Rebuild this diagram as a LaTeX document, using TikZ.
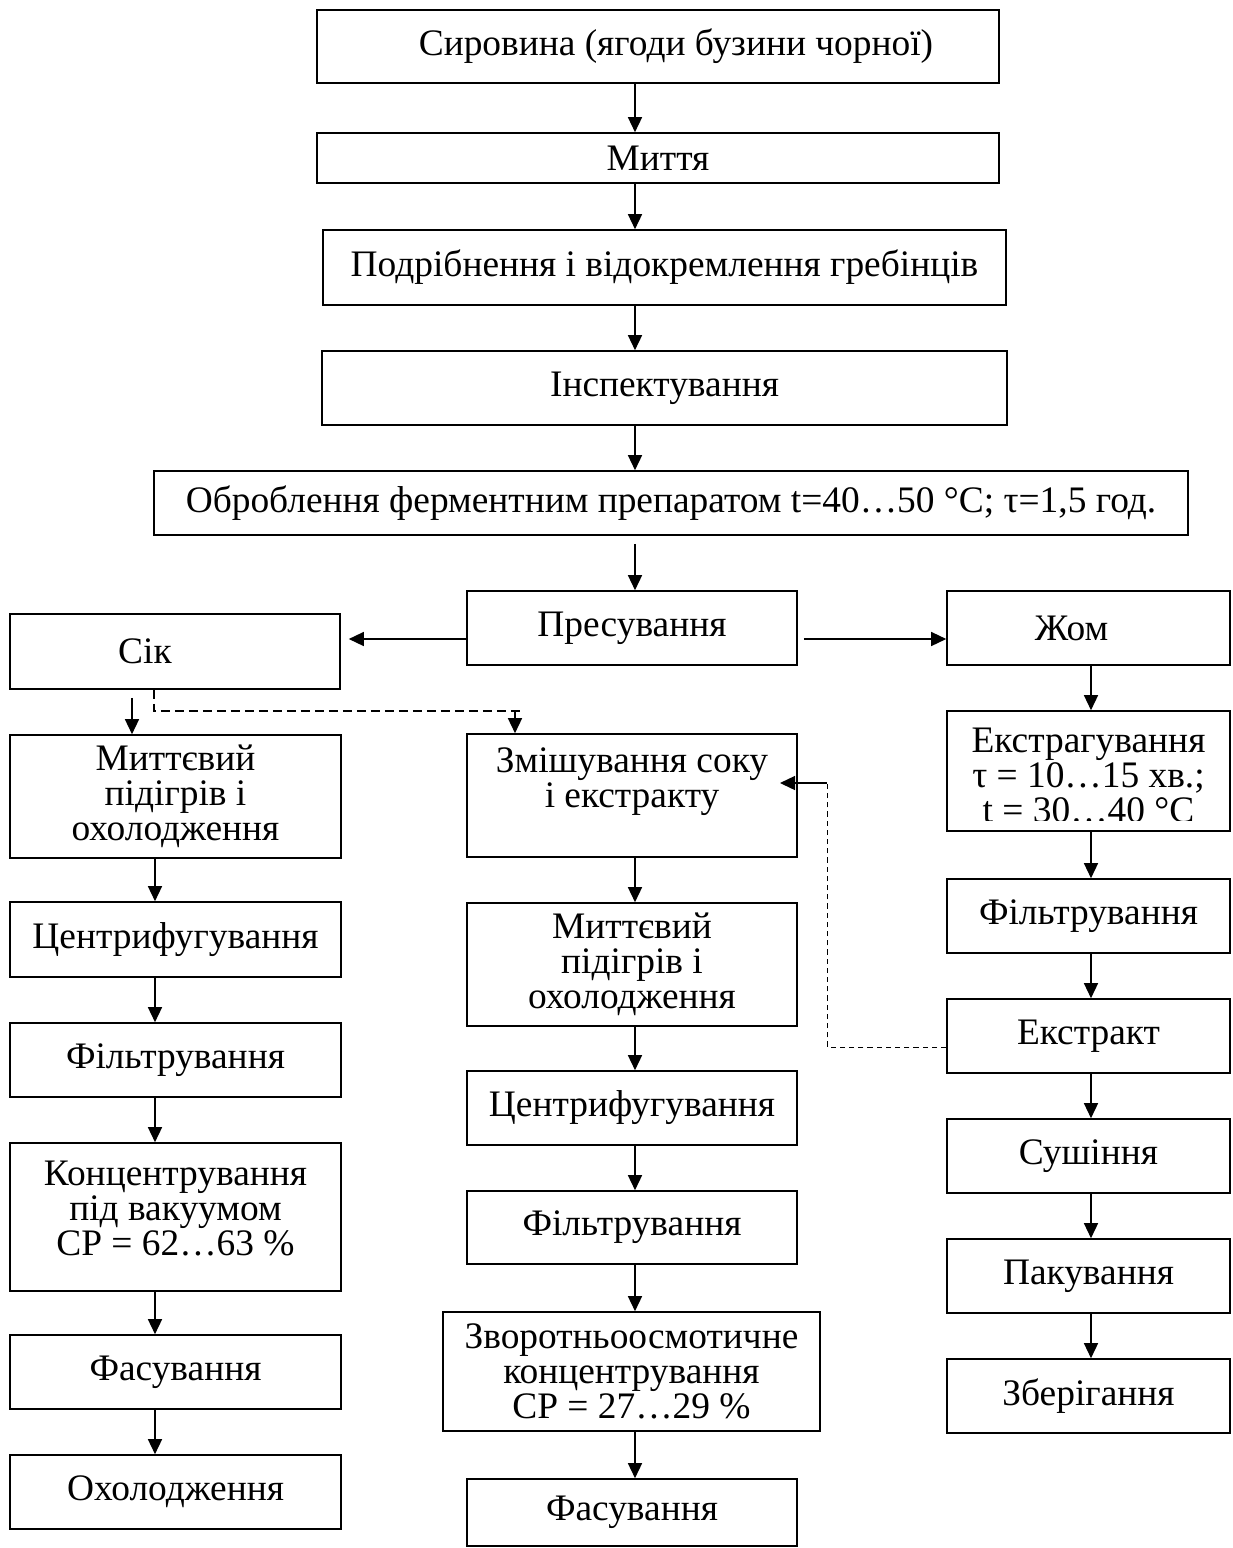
\documentclass[tikz,border=0pt]{standalone}
\usepackage{fontspec}
\setmainfont{Liberation Serif}
\usetikzlibrary{arrows.meta}
\begin{document}
\begin{tikzpicture}[x=0.5pt,y=-0.5pt,
  box/.style={draw, line width=0.8pt, inner sep=0pt, align=center, font=\fontsize{18.7}{17.6}\selectfont},
  arr/.style={line width=0.7pt, -{Triangle[length=7.5pt,width=7pt]}},
  dsh/.style={line width=0.7pt, dash pattern=on 4.5pt off 2.5pt},
  dshb/.style={line width=0.5pt, dash pattern=on 2.6pt off 2pt}]
\useasboundingbox (0,0) rectangle (1232,1548);
% top chain
\node[box, minimum width=341pt, minimum height=36.5pt] (sir) at (658,46.5) {\hspace*{18pt}Сировина (ягоди бузини чорної)};
\node[box, minimum width=341pt, minimum height=25pt] (mit) at (658,158) {Миття};
\node[box, minimum width=341.5pt, minimum height=37.5pt] (pod) at (664.5,267.5) {Подрібнення і відокремлення гребінців};
\node[box, minimum width=342.5pt, minimum height=37pt] (insp) at (664.5,388) {Інспектування};
\node[box, minimum width=517pt, minimum height=32pt] (obr) at (671,503) {Оброблення ферментним препаратом t=40…50 °C; τ=1,5 год.};
\node[box, minimum width=165pt, minimum height=37pt] (pres) at (632,628) {Пресування};
\node[box, minimum width=165pt, minimum height=37.5pt] (sik) at (175,651.5) {\hspace*{-30pt}Сік};
\node[box, minimum width=141.5pt, minimum height=37pt] (zhom) at (1088.5,628) {\hspace*{-17pt}Жом};
% left column
\node[box, minimum width=165.5pt, minimum height=61.5pt] (lmit) at (175.5,796.5) {Миттєвий\\підігрів і\\охолодження};
\node[box, minimum width=165.5pt, minimum height=37.5pt] (lcen) at (175.5,939.5) {Центрифугування};
\node[box, minimum width=165.5pt, minimum height=37pt] (lfil) at (175.5,1060) {Фільтрування};
\node[box, minimum width=165.5pt, minimum height=74pt] (lcon) at (175.5,1217) {Концентрування\\під вакуумом\\СР = 62…63 \%\rule[-9pt]{0pt}{9pt}};
\node[box, minimum width=165.5pt, minimum height=37pt] (lfas) at (175.5,1372) {Фасування};
\node[box, minimum width=165.5pt, minimum height=37pt] (lohl) at (175.5,1492) {Охолодження};
% middle column
\node[box, minimum width=165pt, minimum height=61.5pt] (zmi) at (632,795.5) {Змішування соку\\і екстракту\\\mbox{}};
\node[box, minimum width=165pt, minimum height=61.5pt] (mmit) at (632,964.5) {Миттєвий\\підігрів і\\охолодження};
\node[box, minimum width=165pt, minimum height=37pt] (mcen) at (632,1108) {Центрифугування};
\node[box, minimum width=165pt, minimum height=36.5pt] (mfil) at (632,1227.5) {Фільтрування};
\node[box, minimum width=188.5pt, minimum height=59.5pt] (zvo) at (631.5,1371.5) {Зворотньоосмотичне\\концентрування\\СР = 27…29 \%};
\node[box, minimum width=165pt, minimum height=33.5pt] (mfas) at (632,1512.5) {Фасування};
% right column
\node[box, minimum width=141.5pt, minimum height=60pt] (ext) at (1088.5,771) {\rule{0pt}{17pt}Екстрагування\\τ = 10…15 хв.;\\t = 30…40 °C};
\fill[white] (949,820.5) rectangle (1228,829.5);
\node[box, minimum width=141.5pt, minimum height=37pt] (rfil) at (1088.5,916) {Фільтрування};
\node[box, minimum width=141.5pt, minimum height=37pt] (rext) at (1088.5,1036) {Екстракт};
\node[box, minimum width=141.5pt, minimum height=37pt] (rsus) at (1088.5,1156) {Сушіння};
\node[box, minimum width=141.5pt, minimum height=37pt] (rpak) at (1088.5,1276) {Пакування};
\node[box, minimum width=141.5pt, minimum height=37pt] (rzbe) at (1088.5,1396) {Зберігання};
% column coordinates
\coordinate (c1) at (635,0);
\coordinate (cL) at (155,0);
\coordinate (cR) at (1091,0);
\coordinate (cS) at (132,0);
\coordinate (hy) at (0,639);
% top arrows
\draw[arr] (sir.south -| c1) -- (mit.north -| c1);
\draw[arr] (mit.south -| c1) -- (pod.north -| c1);
\draw[arr] (pod.south -| c1) -- (insp.north -| c1);
\draw[arr] (insp.south -| c1) -- (obr.north -| c1);
\draw[arr] ([yshift=-4pt]obr.south -| c1) -- (pres.north -| c1);
\draw[arr, shorten >=4pt] (pres.west |- hy) -- (sik.east |- hy);
\draw[arr, shorten <=3pt] (pres.east |- hy) -- (zhom.west |- hy);
% left arrows
\draw[arr] ([yshift=-4pt]sik.south -| cS) -- (lmit.north -| cS);
\draw[arr] (lmit.south -| cL) -- (lcen.north -| cL);
\draw[arr] (lcen.south -| cL) -- (lfil.north -| cL);
\draw[arr] (lfil.south -| cL) -- (lcon.north -| cL);
\draw[arr] (lcon.south -| cL) -- (lfas.north -| cL);
\draw[arr] (lfas.south -| cL) -- (lohl.north -| cL);
% middle arrows
\draw[arr] (zmi.south -| c1) -- (mmit.north -| c1);
\draw[arr] (mmit.south -| c1) -- (mcen.north -| c1);
\draw[arr] (mcen.south -| c1) -- (mfil.north -| c1);
\draw[arr] (mfil.south -| c1) -- (zvo.north -| c1);
\draw[arr] (zvo.south -| c1) -- (mfas.north -| c1);
% right arrows
\draw[arr] (zhom.south -| cR) -- (ext.north -| cR);
\draw[arr] (ext.south -| cR) -- (rfil.north -| cR);
\draw[arr] (rfil.south -| cR) -- (rext.north -| cR);
\draw[arr] (rext.south -| cR) -- (rsus.north -| cR);
\draw[arr] (rsus.south -| cR) -- (rpak.north -| cR);
\draw[arr] (rpak.south -| cR) -- (rzbe.north -| cR);
% dashed connections
\coordinate (d1) at (154,711);
\coordinate (d2) at (523,711);
\coordinate (d3) at (515,711);
\draw[dsh] (sik.south -| d1) -- (d1) -- (d2);
\draw[arr] (d3) -- (zmi.north -| d3);
\coordinate (e1) at (827,1047);
\coordinate (e2) at (827,783);
\coordinate (e3) at (780,783);
\draw[dshb] (rext.west |- e1) -- (e1) -- (e2);
\draw[arr] (e2) -- (e3);
\end{tikzpicture}
\end{document}
